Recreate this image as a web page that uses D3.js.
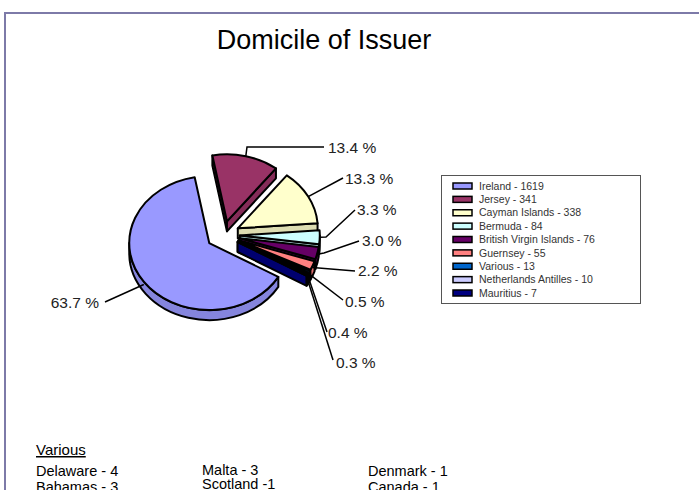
<!DOCTYPE html>
<html>
<head>
<meta charset="utf-8">
<script src="https://cdn.jsdelivr.net/npm/d3@7"></script>
<style>
  body { margin: 0; background: #fff; }
  svg { display: block; font-family: "Liberation Sans", Arial, sans-serif; }
</style>
</head>
<body>
<div id="chart"></div>
<script>
// data
const domiciles = ["Ireland", "Jersey", "Cayman Islands", "Bermuda", "British Virgin Islands",
  "Guernsey", "Various", "Netherlands Antilles", "Mauritius"];
const issuers = [1619, 341, 338, 84, 76, 55, 13, 10, 7];
const variousList = ["Delaware - 4", "Bahamas - 3", "Malta - 3", "Scotland -1", "Denmark - 1", "Canada - 1"];

const palette = ["#9999ff", "#993366", "#ffffcc", "#ccffff", "#660066",
  "#ff8080", "#0066cc", "#ccccff", "#000080"];

const width = 699, height = 490;
const svg = d3.select("#chart").append("svg")
  .attr("width", width).attr("height", height);

// page frame
svg.append("path")
  .attr("d", "M5,490V13H699")
  .attr("fill", "none").attr("stroke", "#7d7aa8").attr("stroke-width", 2);

svg.append("text")
  .attr("x", 324).attr("y", 49)
  .attr("text-anchor", "middle")
  .style("font-size", "27px")
  .text("Domicile of Issuer");

// 3d pie geometry
const cx = 223, cy = 235, rx = 80, ry = 67, depth = 10, explode = 0.21;
const deg = Math.PI / 180;
const total = d3.sum(issuers);
const fmt = d3.format(".1f");

const pie = d3.pie().sort(null)
  .startAngle(120.3 * deg).endAngle(120.3 * deg + 2 * Math.PI);
const arcs = pie(issuers).map((a, i) => {
  const mid = (a.startAngle + a.endAngle) / 2;
  return {
    ...a, i, mid,
    cx: cx + explode * rx * Math.sin(mid),
    cy: cy - explode * ry * Math.cos(mid),
  };
});

const pt = (s, t, z = 0) => [s.cx + rx * Math.sin(t), s.cy - ry * Math.cos(t) + z];

function topPath(s) {
  const p0 = pt(s, s.startAngle), p1 = pt(s, s.endAngle);
  const large = s.endAngle - s.startAngle > Math.PI ? 1 : 0;
  return `M${s.cx},${s.cy}L${p0}A${rx},${ry} 0 ${large} 1 ${p1}Z`;
}

function radialWall(s, t) {
  const r0 = pt(s, t), r1 = pt(s, t, depth);
  return `M${s.cx},${s.cy}L${r0}L${r1}L${s.cx},${s.cy + depth}Z`;
}

function outerWall(s) {
  // only the front half (90..270 deg) faces the viewer
  let segs = [];
  for (const k of [0, 2 * Math.PI]) {
    const b0 = Math.max(s.startAngle, Math.PI / 2 + k);
    const b1 = Math.min(s.endAngle, 1.5 * Math.PI + k);
    if (b1 > b0) segs.push([b0, b1]);
  }
  return segs.map(([b0, b1]) => {
    const large = b1 - b0 > Math.PI ? 1 : 0;
    return `M${pt(s, b0)}A${rx},${ry} 0 ${large} 1 ${pt(s, b1)}` +
      `L${pt(s, b1, depth)}A${rx},${ry} 0 ${large} 0 ${pt(s, b0, depth)}Z`;
  }).join("");
}

const order = arcs.slice().sort((a, b) => -Math.cos(a.mid) + Math.cos(b.mid));
const pieG = svg.append("g")
  .attr("stroke", "#000").attr("stroke-width", 2).attr("stroke-linejoin", "round");

order.forEach(s => {
  const g = pieG.append("g");
  const side = d3.color(palette[s.i]).darker(0.4);
  if (Math.sin(s.startAngle) < 0) g.append("path").attr("d", radialWall(s, s.startAngle)).attr("fill", side);
  if (Math.sin(s.endAngle) > 0) g.append("path").attr("d", radialWall(s, s.endAngle)).attr("fill", side);
  const ow = outerWall(s);
  if (ow) g.append("path").attr("d", ow).attr("fill", side);
  g.append("path").attr("d", topPath(s)).attr("fill", palette[s.i]);
});

// percentage labels with leader lines (layout only)
const labelLayout = [
  { tx: 99, ty: 302, anchor: "end", pts: [[105, 302]] },
  { tx: 328, ty: 147, pts: [[247, 147], [324, 147]] },
  { tx: 345, ty: 178, pts: [[343, 178]] },
  { tx: 357, ty: 209, pts: [[326, 237], [355, 210]] },
  { tx: 362, ty: 240, pts: [[324, 253], [359, 241]] },
  { tx: 358, ty: 270, pts: [[355, 271]] },
  { tx: 345, ty: 301, pts: [[343, 300]] },
  { tx: 328, ty: 332, pts: [[327, 332]] },
  { tx: 336, ty: 362, pts: [[333, 360]] },
];

const labelG = svg.append("g");
arcs.forEach(s => {
  const L = labelLayout[s.i];
  const start = pt(s, s.mid, depth * 0.5 * Math.max(0, -Math.cos(s.mid)));
  labelG.append("path")
    .attr("d", d3.line()([start, ...L.pts]))
    .attr("fill", "none").attr("stroke", "#000").attr("stroke-width", 1.5);
  labelG.append("text")
    .attr("x", L.tx).attr("y", L.ty)
    .attr("dy", "0.36em")
    .attr("text-anchor", L.anchor || "start")
    .style("font-size", "15.5px").attr("fill", "#222")
    .text(fmt(s.value / total * 100) + " %");
});

// legend
const legend = svg.append("g").attr("transform", "translate(441,175)");
legend.append("rect")
  .attr("x", 0.5).attr("y", 0.5).attr("width", 199).attr("height", 128)
  .attr("fill", "#fff").attr("stroke", "#555");
const rowY = d3.scalePoint().domain(domiciles).range([11, 118]);
domiciles.forEach((name, i) => {
  legend.append("rect")
    .attr("x", 12).attr("y", rowY(name) - 3).attr("width", 19).attr("height", 6)
    .attr("fill", palette[i]).attr("stroke", "#000").attr("stroke-width", 1.5);
  legend.append("text")
    .attr("x", 38).attr("y", rowY(name)).attr("dy", "0.35em")
    .style("font-size", "10.5px").attr("fill", "#333")
    .text(`${name} - ${issuers[i]}`);
});

// breakdown of "Various"
svg.append("text")
  .attr("x", 36).attr("y", 455)
  .style("font-size", "15px")
  .attr("text-decoration", "underline")
  .text("Various");
const colX = [36, 202, 368];
const rowBase = [[476, 492], [475, 489], [476, 492]];
variousList.forEach((t, i) => {
  const c = Math.floor(i / 2), r = i % 2;
  svg.append("text")
    .attr("x", colX[c]).attr("y", rowBase[c][r])
    .style("font-size", "14.5px")
    .text(t);
});
</script>
</body>
</html>
